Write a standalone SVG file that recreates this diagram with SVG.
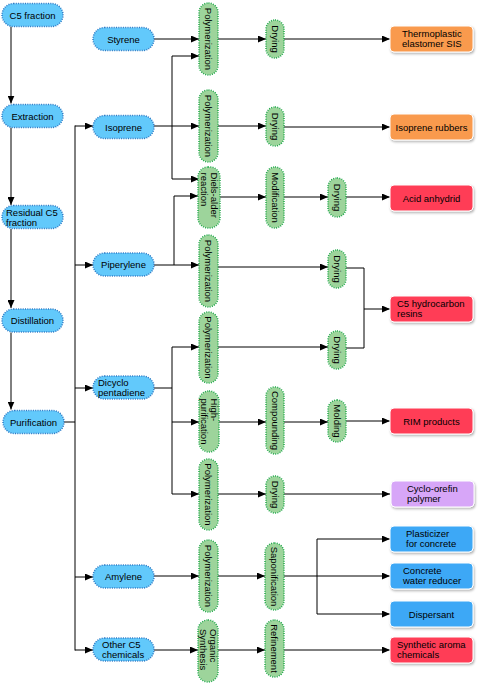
<svg xmlns="http://www.w3.org/2000/svg" width="483" height="683" viewBox="0 0 483 683">
<defs>
<marker id="ah" markerUnits="userSpaceOnUse" markerWidth="8" markerHeight="7" refX="8" refY="3.5" orient="auto"><path d="M0,0 L8,3.5 L0,7 z" fill="#000"/></marker>
<filter id="sh" x="-10%" y="-20%" width="125%" height="150%"><feDropShadow dx="1" dy="1.5" stdDeviation="1" flood-color="#000" flood-opacity="0.3"/></filter>
<style>
text{font-family:"Liberation Sans",Arial,sans-serif;font-size:9.5px;fill:#000}
.bp{fill:#62C9FB;stroke:#2F79C4;stroke-width:1.5;stroke-dasharray:1 1.3}
.gp{fill:#9DD49B;stroke:#20A84A;stroke-width:1.5;stroke-dasharray:1 1.3}
.pr{stroke:#fff;stroke-width:1;filter:url(#sh)}
.c text,.m{text-anchor:middle}
.e path{fill:none;stroke:#000;stroke-width:1}
.a{marker-end:url(#ah)}
</style>
</defs>
<g class="e" id="connectors">
<path class="a" d="M11,26.5 V103.5"/>
<path class="a" d="M11,127.5 V205"/>
<path class="a" d="M11,229 V308"/>
<path class="a" d="M11,332.5 V409.5"/>
<path d="M64,422 H75 M75,125.5 V650.5"/>
<path class="a" d="M75,126 H93"/>
<path class="a" d="M75,265 H93"/>
<path class="a" d="M75,388 H93"/>
<path class="a" d="M75,577 H93"/>
<path class="a" d="M75,650 H93"/>
<path class="a" d="M154,39 H199"/>
<path class="a" d="M154,126 H199"/>
<path d="M172,56 V179"/>
<path class="a" d="M172,56 H199"/>
<path class="a" d="M172,179 H199"/>
<path class="a" d="M218,39 H266"/>
<path class="a" d="M284,39 H390"/>
<path class="a" d="M218,126 H266"/>
<path class="a" d="M284,127 H390"/>
<path class="a" d="M154,265 H199"/>
<path class="a" d="M174,265 V196 H198"/>
<path class="a" d="M220,197 H266"/>
<path class="a" d="M284,197 H328"/>
<path class="a" d="M346,197 H390"/>
<path class="a" d="M218,267 H328"/>
<path d="M346,268 H364 V348 H346"/>
<path class="a" d="M364,309 H390"/>
<path d="M154,388 H172 M172,347 V494"/>
<path class="a" d="M172,347 H199"/>
<path class="a" d="M172,422 H199"/>
<path class="a" d="M172,494 H199"/>
<path class="a" d="M218,347 H328"/>
<path class="a" d="M219,422 H266"/>
<path class="a" d="M284,422 H328"/>
<path class="a" d="M346,421 H390"/>
<path class="a" d="M218,494 H266"/>
<path class="a" d="M284,494 H390"/>
<path class="a" d="M154,576 H199"/>
<path class="a" d="M218,576 H265"/>
<path class="a" d="M284,576 H390"/>
<path d="M317,539 V614"/>
<path class="a" d="M317,539 H390"/>
<path class="a" d="M317,614 H390"/>
<path class="a" d="M154,650 H198"/>
<path class="a" d="M217,650 H265"/>
<path class="a" d="M284,650 H390"/>
</g>
<!-- left column -->
<g id="c5fraction" class="c"><rect class="bp" x="2" y="3.5" width="61" height="23" rx="11.5"/><text x="32.5" y="18.5">C5 fraction</text></g>
<g id="extraction" class="c"><rect class="bp" x="2" y="104.5" width="61" height="23" rx="11.5"/><text x="32.5" y="119.5">Extraction</text></g>
<g id="residual"><rect class="bp" x="2" y="205.5" width="61" height="23" rx="11.5"/><text x="6" y="215.5">Residual C5</text><text x="6" y="225.5">fraction</text></g>
<g id="distillation" class="c"><rect class="bp" x="2" y="309" width="61" height="23" rx="11.5"/><text x="32.5" y="324">Distillation</text></g>
<g id="purification" class="c"><rect class="bp" x="3" y="410.5" width="61" height="23" rx="11.5"/><text x="33.5" y="425.5">Purification</text></g>
<!-- second column -->
<g id="styrene" class="c"><rect class="bp" x="93" y="27.5" width="61" height="23" rx="11.5"/><text x="123.5" y="42.5">Styrene</text></g>
<g id="isoprene" class="c"><rect class="bp" x="93" y="115.5" width="61" height="23" rx="11.5"/><text x="123.5" y="130.5">Isoprene</text></g>
<g id="piperylene" class="c"><rect class="bp" x="93" y="253" width="61" height="23" rx="11.5"/><text x="123.5" y="268">Piperylene</text></g>
<g id="dicyclopentadiene"><rect class="bp" x="93" y="376" width="61" height="23" rx="11.5"/><text x="98" y="386">Dicyclo</text><text x="98" y="396">pentadiene</text></g>
<g id="amylene" class="c"><rect class="bp" x="93" y="565" width="61" height="23" rx="11.5"/><text x="123.5" y="580">Amylene</text></g>
<g id="otherc5"><rect class="bp" x="93" y="638" width="61" height="23" rx="11.5"/><text x="102" y="648">Other C5</text><text x="102" y="658">chemicals</text></g>
<!-- green column A -->
<g id="poly1"><rect class="gp" x="199" y="3" width="19" height="72" rx="9.5"/><text class="m" transform="translate(208.5,39) rotate(90)" y="3.5">Polymerization</text></g>
<g id="poly2"><rect class="gp" x="199" y="90" width="19" height="72" rx="9.5"/><text class="m" transform="translate(208.5,126) rotate(90)" y="3.5">Polymerization</text></g>
<g id="dielsalder"><rect class="gp" x="198" y="167" width="22" height="61" rx="10"/><g transform="translate(209,197.5) rotate(90)"><text x="-25" y="-1.5">Diels-alder</text><text x="-25" y="8.5">reaction</text></g></g>
<g id="poly3"><rect class="gp" x="199" y="235" width="19" height="72" rx="9.5"/><text class="m" transform="translate(208.5,271) rotate(90)" y="3.5">Polymerization</text></g>
<g id="poly4"><rect class="gp" x="199" y="312" width="19" height="71" rx="9.5"/><text class="m" transform="translate(208.5,347.5) rotate(90)" y="3.5">Polymerization</text></g>
<g id="highpurification"><rect class="gp" x="199" y="391" width="20" height="61" rx="10"/><g transform="translate(209,421.5) rotate(90)"><text x="-23" y="-1.5">High-</text><text x="-23" y="8.5">purification</text></g></g>
<g id="poly5"><rect class="gp" x="199" y="459" width="19" height="71" rx="9.5"/><text class="m" transform="translate(208.5,494.5) rotate(90)" y="3.5">Polymerization</text></g>
<g id="poly6"><rect class="gp" x="199" y="540" width="19" height="72" rx="9.5"/><text class="m" transform="translate(208.5,576) rotate(90)" y="3.5">Polymerization</text></g>
<g id="organic"><rect class="gp" x="198" y="620" width="20" height="62" rx="10"/><g transform="translate(208,651) rotate(90)"><text x="-22" y="-1.5">Organic</text><text x="-22" y="8.5">Synthesis</text></g></g>
<!-- green column B -->
<g id="drying1"><rect class="gp" x="266" y="20" width="18" height="38" rx="9"/><text class="m" transform="translate(275,39) rotate(90)" y="3.5">Drying</text></g>
<g id="drying2"><rect class="gp" x="266" y="107" width="18" height="39" rx="9"/><text class="m" transform="translate(275,126.5) rotate(90)" y="3.5">Drying</text></g>
<g id="modification"><rect class="gp" x="266" y="167" width="18" height="61" rx="9"/><text class="m" transform="translate(275,197.5) rotate(90)" y="3.5">Modification</text></g>
<g id="compounding"><rect class="gp" x="266" y="387" width="18" height="67" rx="9"/><text class="m" transform="translate(275,420.5) rotate(90)" y="3.5">Compounding</text></g>
<g id="drying5"><rect class="gp" x="266" y="476" width="18" height="37" rx="9"/><text class="m" transform="translate(275,494.5) rotate(90)" y="3.5">Drying</text></g>
<g id="saponification"><rect class="gp" x="265" y="543" width="19" height="67" rx="9.5"/><text class="m" transform="translate(274.5,576.5) rotate(90)" y="3.5">Saponification</text></g>
<g id="refinement"><rect class="gp" x="265" y="620" width="19" height="57" rx="9.5"/><text class="m" transform="translate(274.5,648.5) rotate(90)" y="3.5">Refinement</text></g>
<!-- green column C -->
<g id="drying3"><rect class="gp" x="328" y="178" width="18" height="39" rx="9"/><text class="m" transform="translate(337,197.5) rotate(90)" y="3.5">Drying</text></g>
<g id="drying4"><rect class="gp" x="328" y="250" width="18" height="38" rx="9"/><text class="m" transform="translate(337,269) rotate(90)" y="3.5">Drying</text></g>
<g id="drying6"><rect class="gp" x="328" y="331" width="18" height="38" rx="9"/><text class="m" transform="translate(337,350) rotate(90)" y="3.5">Drying</text></g>
<g id="molding"><rect class="gp" x="328" y="400" width="18" height="42" rx="9"/><text class="m" transform="translate(337,421) rotate(90)" y="3.5">Molding</text></g>
<!-- products -->
<g id="thermo"><rect class="pr" x="390" y="26" width="83" height="26" rx="4" fill="#F99A4E"/><text x="402" y="37">Thermoplastic</text><text x="402" y="47">elastomer SIS</text></g>
<g id="isoprenerubbers" class="c"><rect class="pr" x="390" y="114" width="83" height="26" rx="4" fill="#F99A4E"/><text x="431.5" y="130.5">Isoprene rubbers</text></g>
<g id="acid" class="c"><rect class="pr" x="390" y="185" width="83" height="26" rx="4" fill="#FF3E56"/><text x="431.5" y="201.5">Acid anhydrid</text></g>
<g id="c5resins"><rect class="pr" x="390" y="296" width="83" height="26" rx="4" fill="#FF3E56"/><text x="397" y="307">C5 hydrocarbon</text><text x="397" y="317">resins</text></g>
<g id="rim" class="c"><rect class="pr" x="390" y="408" width="83" height="26" rx="4" fill="#FF3E56"/><text x="431.5" y="424.5">RIM products</text></g>
<g id="cyclo"><rect class="pr" x="391" y="481" width="83" height="26" rx="4" fill="#D7A6F8"/><text x="407" y="492">Cyclo-orefin</text><text x="407" y="502">polymer</text></g>
<g id="plasticizer"><rect class="pr" x="390" y="526" width="83" height="26" rx="4" fill="#3DA8F6"/><text x="406" y="537">Plasticizer</text><text x="406" y="547">for concrete</text></g>
<g id="concrete"><rect class="pr" x="390" y="563" width="83" height="26" rx="4" fill="#3DA8F6"/><text x="403" y="574">Concrete</text><text x="403" y="584">water reducer</text></g>
<g id="dispersant" class="c"><rect class="pr" x="390" y="601" width="83" height="26" rx="4" fill="#3DA8F6"/><text x="431.5" y="617.5">Dispersant</text></g>
<g id="aroma"><rect class="pr" x="390" y="637" width="83" height="26" rx="4" fill="#FF3E56"/><text x="397" y="648">Synthetic aroma</text><text x="397" y="658">chemicals</text></g>
</svg>
